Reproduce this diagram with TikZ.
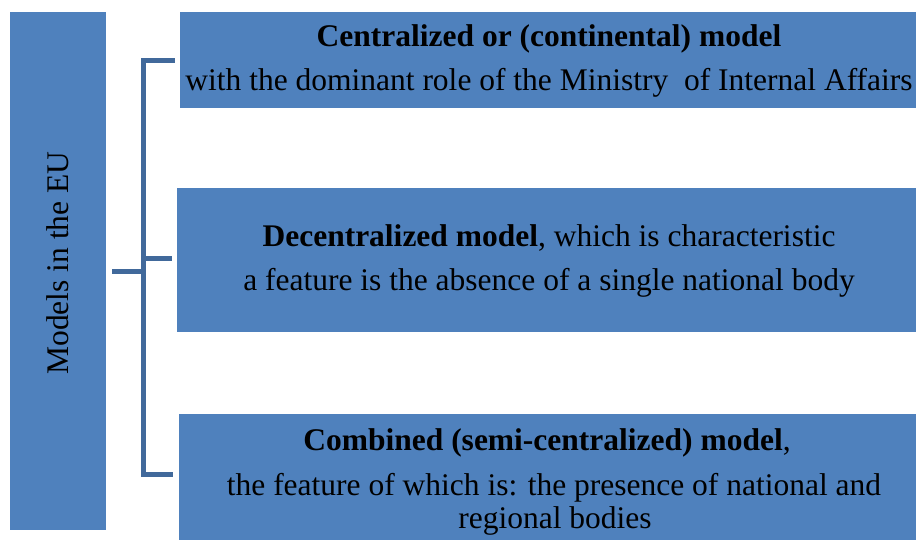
\documentclass[tikz,border=0pt]{standalone}
\usepackage{fontspec}
\setmainfont{Liberation Serif}
\definecolor{boxblue}{HTML}{4F81BD}
\definecolor{brkblue}{HTML}{41699B}
\begin{document}
\begin{tikzpicture}[x=1pt,y=-1pt,
  bx/.style={fill=boxblue,draw=none,inner sep=0pt},
  txt/.style={anchor=base,inner sep=0pt,font=\fontsize{31.5}{36}\selectfont,text=black},
  brk/.style={draw=brkblue,line width=5pt,line join=miter}]
\useasboundingbox (0,0) rectangle (920,539);
\fill[white] (0,0) rectangle (920,539);
% boxes
\path[bx] (10,12) rectangle (106,530) node[midway,inner sep=0pt] (left) {};
\node[bx,minimum width=736pt,minimum height=96pt] (b1) at (548,60) {};
\node[bx,minimum width=739pt,minimum height=144pt] (b2) at (546.5,260) {};
\node[bx,minimum width=737pt,minimum height=126pt] (b3) at (547.5,477) {};
\coordinate (leftE) at (106,271);
% texts
\node[rotate=90,inner sep=0pt,font=\fontsize{31.5}{36}\selectfont] (lt) at (58,263) {Models in the EU};
\node[txt] (t1a) at (549,46) {\textbf{Centralized or (continental) model}};
\node[txt] (t1b) at (549,90) {with the dominant role of the Ministry\ \ of Internal Affairs};
\node[txt] (t2a) at (549,246) {\textbf{Decentralized model}, which is characteristic};
\node[txt] (t2b) at (549,290) {a feature is the absence of a single national body};
\node[txt] (t3a) at (547,450) {\textbf{Combined (semi-centralized) model},};
\node[txt] (t3b) at (554,495) {the feature of which is: the presence of national and};
\node[txt] (t3c) at (555,528) {regional bodies};
% bracket
\coordinate (sp) at (143,0);
\draw[brk] ([xshift=-5pt]b1.west) -- (b1.west -| sp) -- ([yshift=2.5pt]b3.west -| sp) -- ([xshift=-6pt,yshift=2.5pt]b3.west);
\draw[brk] ([yshift=2pt]b2.west -| sp) -- ([xshift=-5pt,yshift=2pt]b2.west);
\draw[brk] ([xshift=6pt]leftE) -- (leftE -| sp);
\end{tikzpicture}
\end{document}
